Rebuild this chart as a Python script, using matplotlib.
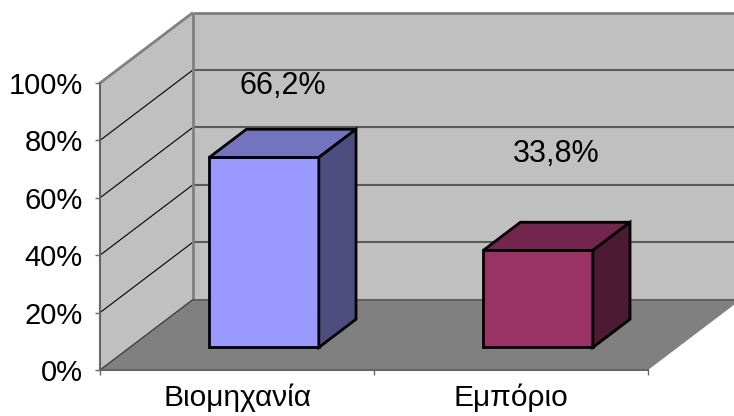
import matplotlib.pyplot as plt
from matplotlib.patches import Polygon

plt.rcParams['font.family'] = ['Liberation Sans', 'DejaVu Sans']

# data
categories = ['Βιομηχανία', 'Εμπόριο']
shares = [0.662, 0.338]
value_labels = ['66,2%', '33,8%']
y_ticks = [0, 0.2, 0.4, 0.6, 0.8, 1.0]
y_tick_labels = ['0%', '20%', '40%', '60%', '80%', '100%']

# colours per bar: front / top / side
front_colors = ['#9999ff', '#993366']
top_colors = ['#7373bf', '#73264d']
side_colors = ['#4d4d80', '#4d1a33']

# oblique "3D" offset for one unit of depth, in data units
KX, KY = 0.3394, 0.2456
BAR_W = 0.40
BAR_OFF = 0.29
D0, D1 = 0.32, 0.72
label_offsets = [35.5, 53.5]  # points above bar top (Excel puts them oddly)


def proj(x, y, d):
    return (x + d * KX, y + d * KY)


def face(ax, pts, color, z, **kw):
    ax.add_patch(Polygon([proj(*p) for p in pts], closed=True,
                         facecolor=color, clip_on=False, zorder=z, **kw))


def edge(ax, p, q, **kw):
    a, b = proj(*p), proj(*q)
    ax.plot([a[0], b[0]], [a[1], b[1]], clip_on=False, solid_capstyle='butt', **kw)


fig = plt.figure(figsize=(7.34, 4.16), dpi=100)
ax = fig.add_axes([100 / 734, 46 / 416, 548 / 734, 287 / 416])
ax.set_xlim(0, 2)
ax.set_ylim(0, 1)
ax.patch.set_visible(False)

# walls and floor
face(ax, [(0, 0, 1), (2, 0, 1), (2, 1, 1), (0, 1, 1)], '#c0c0c0', 0, edgecolor='none')
face(ax, [(0, 0, 0), (0, 0, 1), (0, 1, 1), (0, 1, 0)], '#c0c0c0', 0, edgecolor='none')
face(ax, [(0, 0, 0), (2, 0, 0), (2, 0, 1), (0, 0, 1)], '#808080', 0.5, edgecolor='none')

# gridlines
for t in y_ticks[1:-1]:
    edge(ax, (0, t, 1), (2, t, 1), color='#5a5a5a', lw=1.5, zorder=0.3)
    edge(ax, (0, t, 0), (0, t, 1), color='black', lw=0.8, zorder=0.3)

# wall edges
wall_edge = dict(color='#808080', lw=2, zorder=0.6)
edge(ax, (0, 1, 0), (0, 1, 1), **wall_edge)
edge(ax, (0, 1, 1), (2, 1, 1), **wall_edge)
edge(ax, (0, 0, 1), (0, 1, 1), **wall_edge)
edge(ax, (0, 0, 1), (2, 0, 1), color='#606060', lw=1.5, zorder=0.6)
edge(ax, (0, 0, 0), (0, 0, 1), color='#404040', lw=1, zorder=0.6)

# bars
for i, v in enumerate(shares):
    x0 = i + BAR_OFF
    x1 = x0 + BAR_W
    kw = dict(edgecolor='black', lw=2, joinstyle='miter')
    face(ax, [(x0, 0, D0), (x1, 0, D0), (x1, v, D0), (x0, v, D0)], front_colors[i], 2, **kw)
    face(ax, [(x0, v, D0), (x1, v, D0), (x1, v, D1), (x0, v, D1)], top_colors[i], 2, **kw)
    face(ax, [(x1, 0, D0), (x1, 0, D1), (x1, v, D1), (x1, v, D0)], side_colors[i], 2, **kw)
    ax.annotate(value_labels[i], xy=proj(x0 + BAR_W / 2, v, (D0 + D1) / 2),
                xytext=(0, label_offsets[i]), textcoords='offset points',
                ha='center', va='baseline', fontsize=22, zorder=3,
                annotation_clip=False)

# axes
for s in ['top', 'right']:
    ax.spines[s].set_visible(False)
for s in ['left', 'bottom']:
    ax.spines[s].set_color('#666666')
    ax.spines[s].set_linewidth(1.5)
    ax.spines[s].set_zorder(1)

ax.set_yticks(y_ticks, y_tick_labels)
ax.set_xticks([0, 1, 2], ['', '', ''])
ax.set_xticks([0.5, 1.5], categories, minor=True)
ax.tick_params(axis='both', which='major', length=3.6, width=1, color='#666666',
               labelsize=21)
ax.tick_params(axis='y', pad=9)
ax.tick_params(axis='x', which='minor', length=0, labelsize=21.5, pad=10)

fig.savefig('out.png', dpi=100)
